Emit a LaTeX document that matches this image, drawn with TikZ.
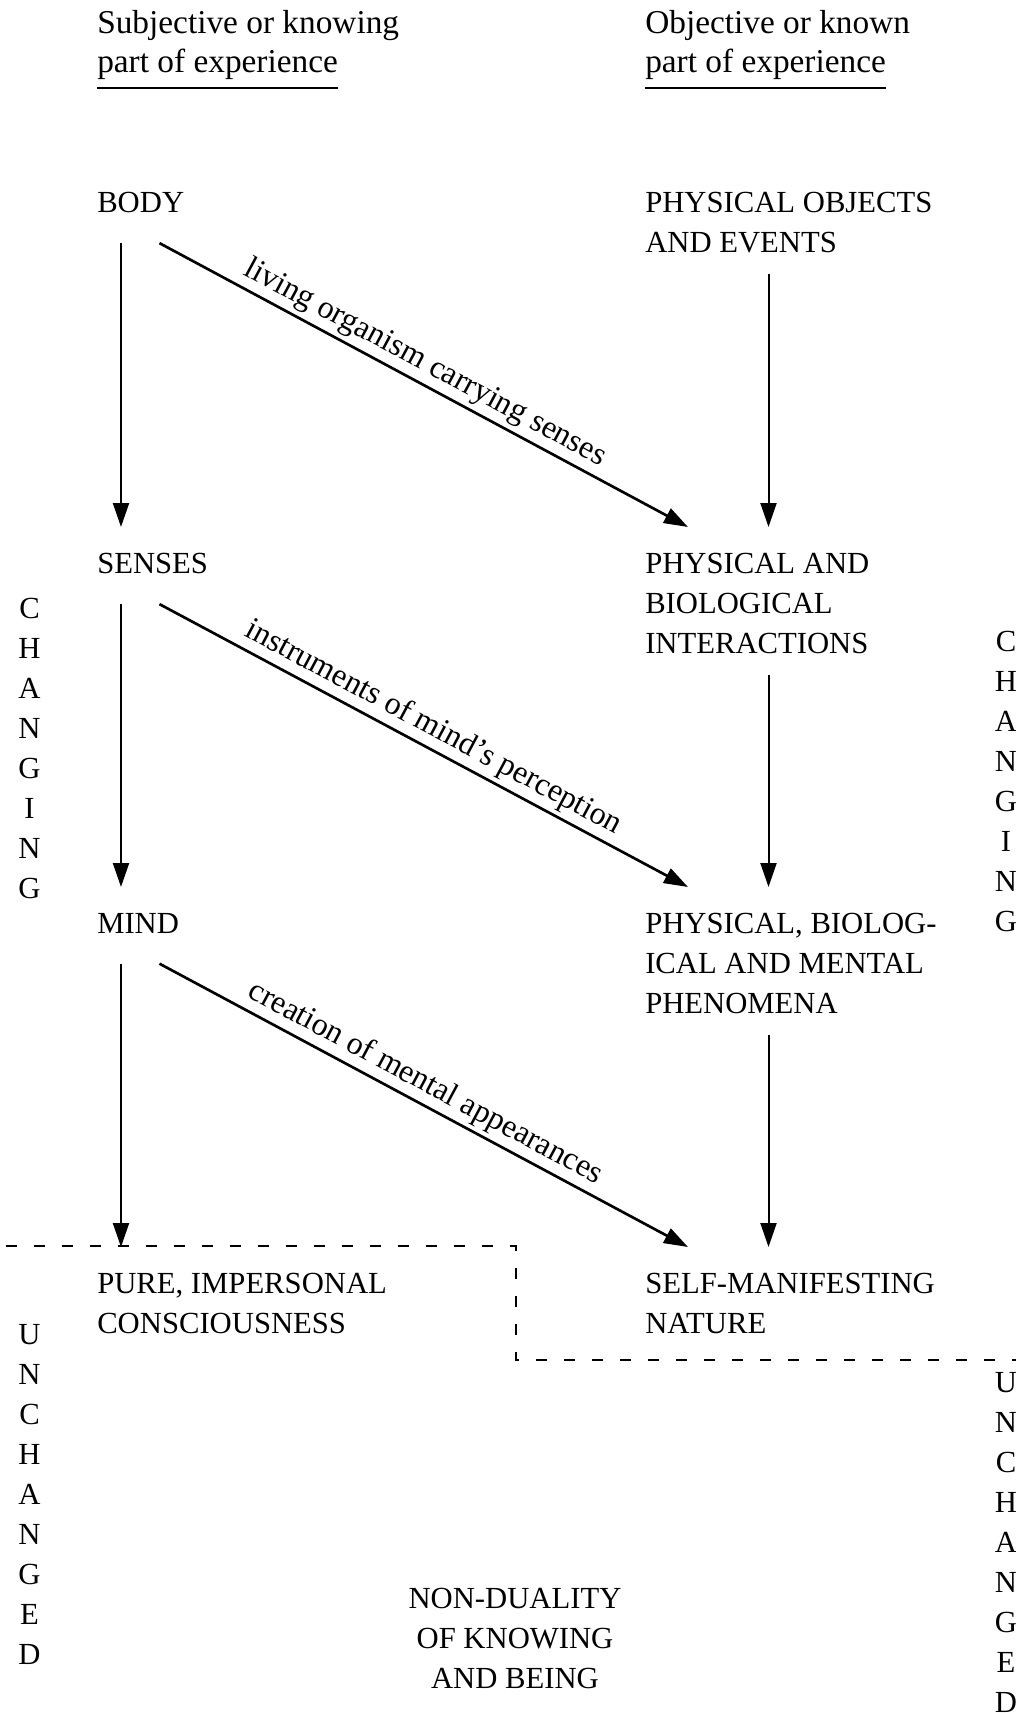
\documentclass[tikz,border=0pt]{standalone}
\usepackage{fontspec}
\setmainfont{Liberation Serif}
\usetikzlibrary{arrows.meta}

\begin{document}
\begin{tikzpicture}[x=0.75pt,y=-0.75pt,
  hdr/.style={anchor=base west,inner sep=0pt,font=\fontsize{25}{30}\selectfont},
  caps/.style={anchor=north west,inner sep=0pt,align=left,font=\fontsize{23}{30}\selectfont},
  letters/.style={anchor=north,inner sep=0pt,align=center,font=\fontsize{23}{30}\selectfont},
  downarrow/.style={line width=1.5pt,-{Triangle[length=18pt,width=12pt]}},
  diagarrow/.style={line width=2pt,-{Triangle[length=18pt,width=12pt]}},
  lbl/.style={pos=0.485,above,sloped,inner sep=3pt,font=\fontsize{24}{30}\selectfont},
  uline/.style={line width=1.5pt},
  border/.style={line width=1.1pt,dash pattern=on 8.6pt off 12.4pt,dash phase=9pt}]
  \useasboundingbox (0,0) rectangle (1016,1713);

  % headings
  \node[hdr] (subj1) at (97,33) {Subjective or knowing};
  \node[hdr] (subj2) at (97,72) {part of experience};
  \node[hdr] (obj1) at (645,33) {Objective or known};
  \node[hdr] (obj2) at (645,72) {part of experience};
  \draw[uline] ([yshift=-12pt]subj2.base west) -- ([yshift=-12pt]subj2.base east);
  \draw[uline] ([yshift=-12pt]obj2.base west) -- ([yshift=-12pt]obj2.base east);

  % knowing side
  \node[caps] (body)   at (97,192)  {BODY};
  \node[caps] (senses) at (97,553)  {SENSES};
  \node[caps] (mind)   at (97,913)  {MIND};
  \node[caps] (pure)   at (97,1273) {PURE, IMPERSONAL\\CONSCIOUSNESS};

  % known side
  \node[caps] (phys)  at (645,192)  {PHYSICAL OBJECTS\\AND EVENTS};
  \node[caps] (inter) at (645,553)  {PHYSICAL AND\\BIOLOGICAL\\INTERACTIONS};
  \node[caps] (pheno) at (645,913)  {PHYSICAL, BIOLOG-\\ICAL AND MENTAL\\PHENOMENA};
  \node[caps] (self)  at (645,1273) {SELF-MANIFESTING\\NATURE};

  \node[caps,anchor=north,align=center] (nondual) at (515,1588) {NON-DUALITY\\OF KNOWING\\AND BEING};

  % side words
  \node[letters] (chl) at (29.5,598)  {C\\H\\A\\N\\G\\I\\N\\G};
  \node[letters] (chr) at (1006,631)  {C\\H\\A\\N\\G\\I\\N\\G};
  \node[letters] (unl) at (29.5,1324) {U\\N\\C\\H\\A\\N\\G\\E\\D};
  \node[letters] (unr) at (1006,1372) {U\\N\\C\\H\\A\\N\\G\\E\\D};

  % body -> senses -> mind -> pure
  \draw[downarrow] ([shift={(24,30)}]body.south west) -- ([shift={(24,-26)}]senses.north west);
  \draw[downarrow] ([shift={(24,30)}]senses.south west) -- ([shift={(24,-26)}]mind.north west);
  \draw[downarrow] ([shift={(24,30)}]mind.south west) -- ([shift={(24,-26)}]pure.north west);

  % phys -> inter -> pheno -> self
  \draw[downarrow] ([shift={(123.5,21)}]phys.south west) -- ([shift={(123.5,-26)}]inter.north west);
  \draw[downarrow] ([shift={(123.5,21)}]inter.south west) -- ([shift={(123.5,-26)}]pheno.north west);
  \draw[downarrow] ([shift={(123.5,21)}]pheno.south west) -- ([shift={(123.5,-26)}]self.north west);

  % across
  \draw[diagarrow] ([shift={(62.5,30)}]body.south west) -- ([shift={(43,-26)}]inter.north west)
    node[lbl] {living organism carrying senses};
  \draw[diagarrow] ([shift={(62.5,30)}]senses.south west) -- ([shift={(43,-26)}]pheno.north west)
    node[lbl,pos=0.5] {instruments of mind's perception};
  \draw[diagarrow] ([shift={(62.5,30)}]mind.south west) -- ([shift={(43,-26)}]self.north west)
    node[lbl] {creation of mental appearances};

  % changing / unchanged
  \draw[border] (-10,1246) -| (516,1360) -- (1030,1360);
\end{tikzpicture}
\end{document}
